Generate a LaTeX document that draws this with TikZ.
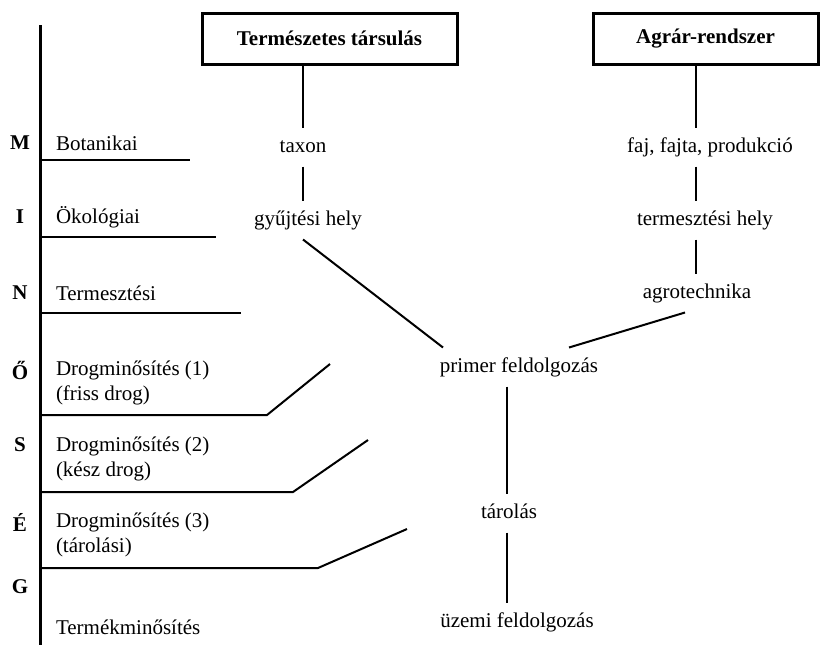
\documentclass[tikz,border=0pt]{standalone}
\usepackage{fontspec}
\setmainfont{Liberation Serif}
\usetikzlibrary{positioning}

\begin{document}
\begin{tikzpicture}[x=0.5pt, y=-0.5pt, line width=1pt, font=\fontsize{10.5}{12.6}\selectfont,
	head/.style={draw, line width=1.5pt, font=\fontsize{10.5}{12.6}\selectfont\bfseries, minimum height=25.5pt, inner sep=0pt},
	txt/.style={text height=7.5pt, text depth=2pt, inner sep=0pt, outer sep=5pt},
	lab/.style={anchor=west, align=left, inner sep=0pt},
	ltr/.style={font=\fontsize{10.5}{12.6}\selectfont\bfseries, inner sep=0pt}]
				\useasboundingbox (0,0) rectangle (820,645);

				\node [head, minimum width=127.5pt] (natur) at (329.5,38.5) {Természetes társulás};
				\node [head, minimum width=112.5pt] (agrar) at (705.5,38.5) {Agrár-rendszer};

				\coordinate (lcol) at (303,0);
				\coordinate (rcol) at (696,0);
				\coordinate (mcol) at (507,0);

				\node [txt] (taxon) at (303,147) {taxon};
				\node [txt] (gyujt) at (308,220) {gyűjtési hely};
				\node [txt] (faj) at (710,147) {faj, fajta, produkció};
				\node [txt] (termhely) at (705,220) {termesztési hely};
				\node [txt] (agro) at (697,293) {agrotechnika};
				\node [txt] (primer) at (519,367) {primer feldolgozás};
				\node [txt] (tarol) at (509,513) {tárolás};
				\node [txt] (uzemi) at (517,622) {üzemi feldolgozás};

				\draw (natur.south -| lcol) -- (taxon.north -| lcol);
				\draw (taxon.south -| lcol) -- (gyujt.north -| lcol);
				\draw (gyujt.south -| lcol) -- ([xshift=-38pt]primer.north);
				\draw (agrar.south -| rcol) -- (faj.north -| rcol);
				\draw (faj.south -| rcol) -- (termhely.north -| rcol);
				\draw (termhely.south -| rcol) -- (agro.north -| rcol);
				\draw ([xshift=-6pt]agro.south) -- ([xshift=25pt]primer.north);
				\draw (primer.south -| mcol) -- (tarol.north -| mcol);
				\draw (tarol.south -| mcol) -- (uzemi.north -| mcol);

				\coordinate (axtop) at (40,25);
				\coordinate (axbot) at (40,645);
				\draw [line width=1.5pt] (axtop) -- (axbot);

				\node [ltr] (m) at (20,143) {M};
				\node [ltr] (i) at (20,217) {I};
				\node [ltr] (n) at (20,293) {N};
				\node [ltr] (oo) at (20,370) {Ő};
				\node [ltr] (s) at (20,445) {S};
				\node [ltr] (e) at (20,522) {É};
				\node [ltr] (g) at (20,587) {G};

				\node [lab] (bot) at (55,143) {Botanikai};
				\node [lab] (oko) at (55,217) {Ökológiai};
				\node [lab] (term) at (55,293) {Termesztési};
				\node [lab] (drog1) at (55,383) {Drogminősítés (1)\\(friss drog)};
				\node [lab] (drog2) at (55,459) {Drogminősítés (2)\\(kész drog)};
				\node [lab] (drog3) at (55,535) {Drogminősítés (3)\\(tárolási)};
				\node [lab] (termek) at (55,627) {Termékminősítés};

				\draw (40,160) -- (190,160);
				\draw (40,237) -- (216,237);
				\draw (40,313) -- (241,313);
				\draw (40,415) -- (267,415) -- (330,364);
				\draw (40,492) -- (293,492) -- (368,440);
				\draw (40,568) -- (318,568) -- (407,529);
			\end{tikzpicture}
\end{document}
